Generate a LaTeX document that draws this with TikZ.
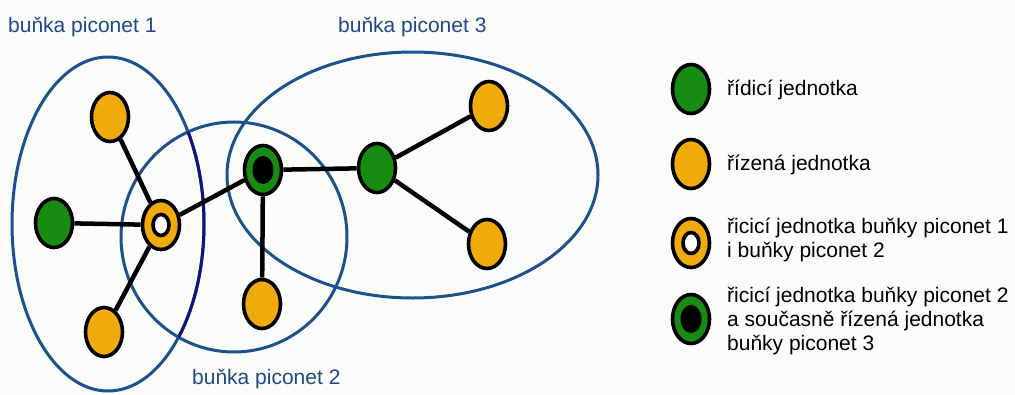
\documentclass[tikz,border=0pt]{standalone}
\usepackage{fontspec}
\setmainfont{Liberation Sans}
\usetikzlibrary{shapes.geometric}
\definecolor{ctrlgreen}{RGB}{24,140,18}
\definecolor{slaveorange}{RGB}{240,170,10}
\definecolor{cellblue}{RGB}{28,82,140}
\definecolor{cellnavy}{RGB}{18,18,128}
\definecolor{labelblue}{RGB}{32,72,132}
\definecolor{paper}{RGB}{251,252,250}
\tikzset{
  unit/.style={ellipse, draw=black, line width=3.6pt, inner sep=0pt,
    minimum width=37pt, minimum height=49pt},
  master/.style={unit, fill=ctrlgreen},
  slave/.style={unit, fill=slaveorange},
  bridge/.style={slave, path picture={
    \draw[line width=3.6pt, fill=white] (path picture bounding box.center)
      ellipse [x radius=8pt, y radius=10.5pt];}},
  gateway/.style={master, path picture={
    \fill[black] (path picture bounding box.center)
      ellipse [x radius=10.5pt, y radius=14pt];}},
  link/.style={line width=4.5pt, black},
  cell/.style={line width=3pt, cellblue},
  celllabel/.style={font=\fontsize{21}{24}\selectfont, text=labelblue, inner sep=0pt, anchor=west},
  legendtext/.style={font=\fontsize{21}{24}\selectfont, text=black, inner sep=0pt, anchor=west, align=left},
}
\begin{document}
\begin{tikzpicture}[x=1pt, y=-1pt]
  \fill[paper] (0,0) rectangle (1015,394);
  \useasboundingbox (0,0) rectangle (1015,394);

  % piconet cells
  \draw[cell] (108,224) ellipse [x radius=96pt, y radius=167pt];
  \draw[cell] (234,237) ellipse [x radius=113pt, y radius=115pt];
  \draw[cell] (412.5,175) ellipse [x radius=185.5pt, y radius=123pt];
  \begin{scope}
    \clip (234,237) ellipse [x radius=113pt, y radius=115pt];
    \draw[line width=3pt, cellnavy] (108,224) ellipse [x radius=96pt, y radius=167pt];
  \end{scope}

  % cell captions
  \node[celllabel] (l1) at (8,27) {buňka piconet 1};
  \node[celllabel] (l3) at (338,27) {buňka piconet 3};
  \node[celllabel] (l2) at (192,379) {buňka piconet 2};

  % units
  \node[slave]   (s1) at (110,117) {};
  \node[master]  (m1) at (54,223) {};
  \node[slave]   (s2) at (104,332) {};
  \node[bridge]  (b)  at (161,225) {};
  \node[gateway] (g)  at (263,170) {};
  \node[slave]   (s3) at (262,304) {};
  \node[master]  (m3) at (377,168) {};
  \node[slave]   (s4) at (489,106) {};
  \node[slave]   (s5) at (487,244) {};

  % links
  \draw[link] (b) -- (s1);
  \draw[link] (b) -- (m1);
  \draw[link] (b) -- (s2);
  \draw[link] (b) -- (g);
  \draw[link] (g) -- (s3);
  \draw[link] (g) -- (m3);
  \draw[link] (m3) -- (s4);
  \draw[link] (m3) -- (s5);

  % legend
  \node[master]  (k1) at (691,89) {};
  \node[slave]   (k2) at (691,164) {};
  \node[bridge]  (k3) at (691,243) {};
  \node[gateway] (k4) at (691,319) {};
  \node[legendtext] (t1) at (727,90) {řídicí jednotka};
  \node[legendtext] (t2) at (727,165) {řízená jednotka};
  \node[legendtext] (t3) at (727,240) {řicicí jednotka buňky piconet 1\\i buňky piconet 2};
  \node[legendtext] (t4) at (727,321) {řicicí jednotka buňky piconet 2\\a současně řízená jednotka\\buňky piconet 3};
\end{tikzpicture}
\end{document}
